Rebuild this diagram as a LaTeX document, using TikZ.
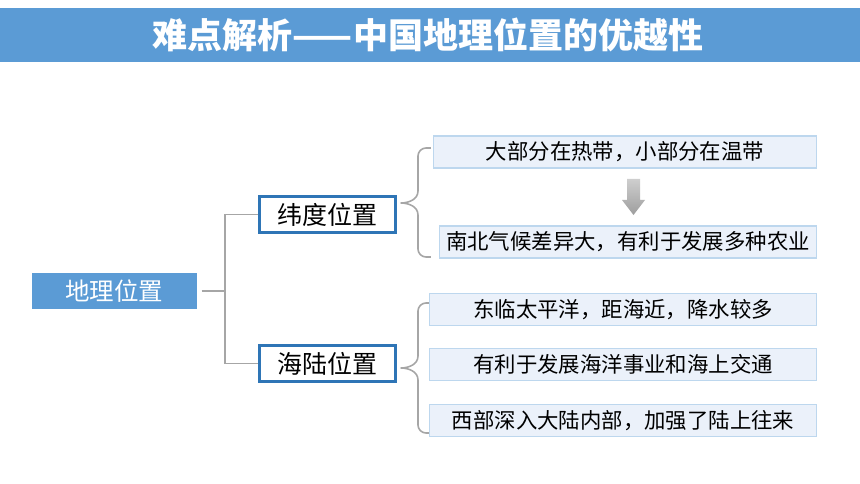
\documentclass[tikz,border=0pt]{standalone}
\usepackage{fontspec}
\newfontfamily\cjk{Noto Sans CJK SC}
\usetikzlibrary{shadows}

\definecolor{titleblue}{HTML}{5B9BD5}
\definecolor{midblue}{HTML}{2E75B6}
\definecolor{leaffill}{HTML}{EBF1FA}
\definecolor{leafline}{HTML}{BDD7EE}
\definecolor{linegray}{HTML}{A6A6A6}

\tikzset{
  rootbox/.style={fill=titleblue,text=white,minimum width=165pt,minimum height=36pt,inner sep=0pt,font=\cjk\fontsize{24.5}{24.5}\selectfont},
  midbox/.style={draw=midblue,line width=2.5pt,fill=white,minimum width=136pt,minimum height=36pt,inner sep=0pt,
    drop shadow={shadow xshift=1.2pt,shadow yshift=-1.2pt,opacity=0.35},font=\cjk\fontsize{25}{25}\selectfont},
  leafbox/.style={draw=leafline,line width=1.5pt,fill=leaffill,minimum height=32pt,inner sep=0pt,font=\cjk\fontsize{21.4}{21.4}\selectfont},
  branch/.style={draw=linegray,line width=1.6pt},
}

\begin{document}
\begin{tikzpicture}[x=1pt,y=-1pt]
\useasboundingbox (0,0) rectangle (860,484);
% title bar
\fill[titleblue] (0,8) rectangle (860,62);
\node[text=white,font=\cjk\bfseries\fontsize{35}{35}\selectfont] (title) at (428,35) {难点解析——中国地理位置的优越性};

% tree nodes
\node[rootbox] (root) at (114,291) {地理位置};
\node[midbox] (lat) at (327.5,214.5) {纬度位置};
\node[midbox] (sea) at (327.5,363.5) {海陆位置};

\node[leafbox,minimum width=383pt] (l1) at (625,152) {大部分在热带，小部分在温带};
\node[leafbox,minimum width=377pt] (l2) at (628,242) {南北气候差异大，有利于发展多种农业};
\node[leafbox,minimum width=387pt] (s1) at (623,309.5) {东临太平洋，距海近，降水较多};
\node[leafbox,minimum width=387pt] (s2) at (623,364.5) {有利于发展海洋事业和海上交通};
\node[leafbox,minimum width=387pt] (s3) at (623,420.5) {西部深入大陆内部，加强了陆上往来};

% root to middle
\draw[branch] ([xshift=5pt]root.east) -- (225,291) coordinate (j);
\draw[branch] (lat.west) -| (j) |- (sea.west);

% brace for lat
\coordinate (bt) at ([xshift=4pt]lat.east |- 0,203);
\draw[branch,rounded corners=8pt] ([xshift=-2pt]l1.west |- 0,148) -| (418,191);
\draw[branch] (418,191) to[out=-90,in=0] (bt);
\draw[branch] (bt) to[out=0,in=90] (418,215);
\draw[branch,rounded corners=8pt] (418,215) |- ([xshift=-8pt]l2.west |- 0,257);

% brace for sea
\coordinate (bs) at ([xshift=4pt]sea.east |- 0,368);
\draw[branch,rounded corners=8pt] (s1.west |- 0,303) -| (418,356);
\draw[branch] (418,356) to[out=-90,in=0] (bs);
\draw[branch] (bs) to[out=0,in=90] (418,380);
\draw[branch,rounded corners=8pt] (418,380) |- (s3.west |- 0,433);

% down arrow
\coordinate (ar) at (633.5,179);
\shade[top color=linegray!55,bottom color=linegray!95!black]
  (ar) ++(-6.5,0) -- ++(0,21) -- ++(-5,0) -- ++(11.5,15) -- ++(11.5,-15)
  -- ++(-5,0) -- ++(0,-21) -- cycle;
\end{tikzpicture}
\end{document}
